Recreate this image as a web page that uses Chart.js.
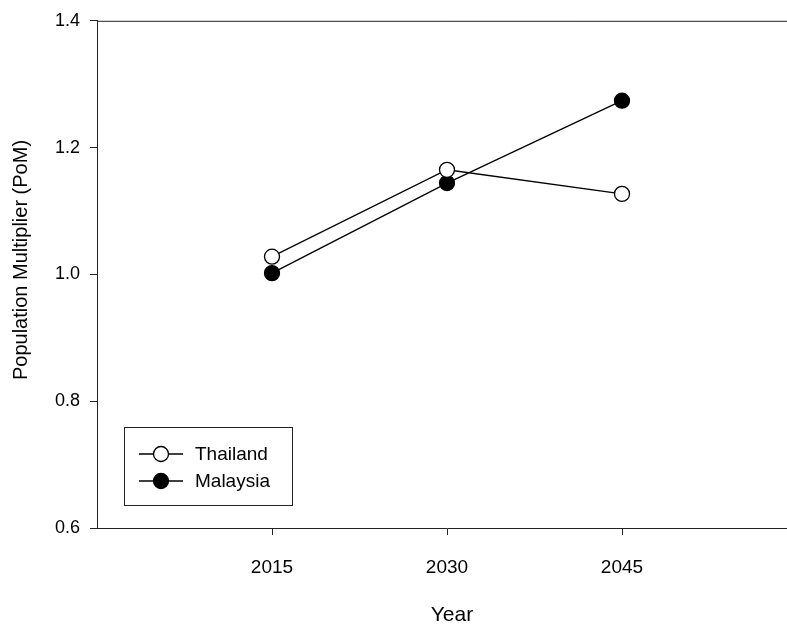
<!DOCTYPE html>
<html>
<head>
<meta charset="utf-8">
<script src="https://cdn.jsdelivr.net/npm/chart.js@4/dist/chart.umd.min.js"></script>
<style>
  html, body { margin: 0; padding: 0; background: #fff; overflow: hidden; }
  #wrap { width: 787px; height: 626px; overflow: hidden; position: relative; }
  #wrap canvas { position: absolute; left: 0; top: 0; }
</style>
</head>
<body>
<div id="wrap"><canvas id="c" width="810" height="626"></canvas></div>
<script>
// Population multiplier by projection year
const years = [2015, 2030, 2045];
const thailand = [1.028, 1.165, 1.127];
const malaysia = [1.002, 1.144, 1.274];
const yearTicks = [2015, 2030, 2045];
const seriesNames = ['Thailand', 'Malaysia'];

const FONT = '"Liberation Sans", Arial, sans-serif';
const INK = '#000';
const FRAME = '#222';

function toPoints(xs, ys) { return xs.map((x, i) => ({ x: x, y: ys[i] })); }

// Top frame line and axis titles
const framePlugin = {
  id: 'frame',
  afterDraw(chart) {
    const { ctx, chartArea } = chart;
    ctx.save();
    ctx.strokeStyle = FRAME;
    ctx.lineWidth = 1;
    ctx.beginPath();
    ctx.moveTo(chartArea.left, chartArea.top + 0.5);
    ctx.lineTo(chartArea.right, chartArea.top + 0.5);
    ctx.stroke();

    ctx.fillStyle = INK;
    ctx.textAlign = 'center';
    ctx.textBaseline = 'middle';
    ctx.font = '21px ' + FONT;
    ctx.fillText('Year', 452, 615);

    ctx.font = '20px ' + FONT;
    ctx.translate(21, 260);
    ctx.rotate(-Math.PI / 2);
    ctx.fillText('Population Multiplier (PoM)', 0, 0);
    ctx.restore();
  }
};

// Boxed legend with line-and-marker samples
const legendPlugin = {
  id: 'boxLegend',
  afterDraw(chart) {
    const { ctx } = chart;
    const box = { x: 124, y: 427, w: 168, h: 78 };
    ctx.save();
    ctx.strokeStyle = FRAME;
    ctx.lineWidth = 1;
    ctx.strokeRect(box.x + 0.5, box.y + 0.5, box.w, box.h);
    const rows = [454, 481];
    chart.data.datasets.forEach((ds, i) => {
      const y = rows[i];
      ctx.strokeStyle = INK;
      ctx.lineWidth = 1.3;
      ctx.beginPath();
      ctx.moveTo(139, y);
      ctx.lineTo(183, y);
      ctx.stroke();
      ctx.beginPath();
      ctx.arc(161, y, 7.5, 0, Math.PI * 2);
      ctx.fillStyle = ds.pointBackgroundColor;
      ctx.fill();
      ctx.stroke();
      ctx.fillStyle = INK;
      ctx.font = '19px ' + FONT;
      ctx.textAlign = 'left';
      ctx.textBaseline = 'middle';
      ctx.fillText(ds.label, 195, y + 1);
    });
    ctx.restore();
  }
};

new Chart(document.getElementById('c'), {
  type: 'line',
  data: {
    datasets: [
      {
        label: seriesNames[0],
        data: toPoints(years, thailand),
        borderColor: INK,
        borderWidth: 1.3,
        pointRadius: 7.5,
        pointBorderWidth: 1.3,
        pointBackgroundColor: '#fff',
        pointBorderColor: INK,
        fill: false,
        tension: 0
      },
      {
        label: seriesNames[1],
        data: toPoints(years, malaysia),
        borderColor: INK,
        borderWidth: 1.3,
        pointRadius: 7.5,
        pointBorderWidth: 1.3,
        pointBackgroundColor: '#000',
        pointBorderColor: INK,
        fill: false,
        tension: 0
      }
    ]
  },
  options: {
    responsive: false,
    animation: false,
    devicePixelRatio: 1,
    layout: { padding: { left: 0, top: 20, right: 13, bottom: 0 } },
    plugins: { legend: { display: false }, tooltip: { enabled: false } },
    scales: {
      x: {
        type: 'linear',
        min: 2000,
        max: 2060,
        afterBuildTicks(scale) { scale.ticks = yearTicks.map(v => ({ value: v })); },
        afterFit(scale) { scale.height = 98; },
        grid: { display: true, drawOnChartArea: false, drawTicks: true, tickLength: 7, color: FRAME, lineWidth: 1 },
        border: { display: true, color: FRAME, width: 1 },
        ticks: { color: INK, font: { family: FONT, size: 19 }, padding: 21, maxRotation: 0,
                 callback: v => String(v) }
      },
      y: {
        min: 0.6,
        max: 1.4,
        afterFit(scale) { scale.width = 97; },
        grid: { display: true, drawOnChartArea: false, drawTicks: true, tickLength: 7, color: FRAME, lineWidth: 1 },
        border: { display: true, color: FRAME, width: 1 },
        ticks: { stepSize: 0.2, color: INK, font: { family: FONT, size: 18 }, padding: 10,
                 callback: v => Number(v).toFixed(1) }
      }
    }
  },
  plugins: [framePlugin, legendPlugin]
});
</script>
</body>
</html>
